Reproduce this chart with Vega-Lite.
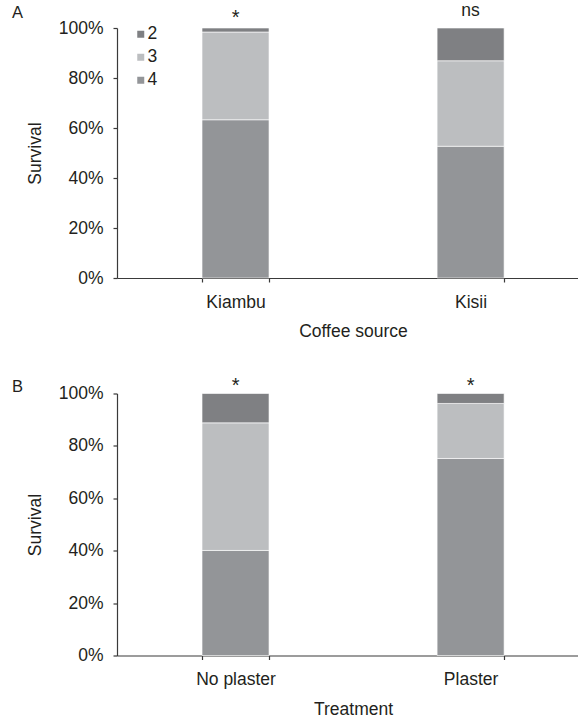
{
  "$schema": "https://vega.github.io/schema/vega-lite/v6.json",
  "background": "white",
  "padding": {"left": 12, "top": 2, "right": 0, "bottom": 0},
  "bounds": "flush",
  "spacing": 115.5,
  "config": {
    "font": "Liberation Sans",
    "view": {"stroke": null},
    "axis": {
      "labelFont": "Liberation Sans",
      "labelFontSize": 17.5,
      "labelColor": "#231f20",
      "titleFont": "Liberation Sans",
      "titleFontSize": 17.5,
      "titleFontWeight": "normal",
      "titleColor": "#231f20",
      "domainColor": "#3a3a3a",
      "tickColor": "#3a3a3a",
      "domainWidth": 1.2,
      "tickWidth": 1.2,
      "tickSize": 4,
      "grid": false
    }
  },
  "resolve": {"legend": {"color": "independent"}, "scale": {"x": "independent"}},
  "vconcat": [
    {
      "title": {
        "text": "A",
        "font": "Liberation Sans",
        "fontSize": 16.5,
        "fontWeight": "normal",
        "color": "#231f20",
        "anchor": "start",
        "frame": "group",
        "baseline": "alphabetic",
        "dx": -105,
        "dy": 37,
        "offset": 5
      },
      "width": 461,
      "height": 250,
      "layer": [
        {
          "data": {
            "values": [
              {"source": "Kiambu", "grade": "4", "share": 0.633},
              {"source": "Kiambu", "grade": "3", "share": 0.351},
              {"source": "Kiambu", "grade": "2", "share": 0.016},
              {"source": "Kisii", "grade": "4", "share": 0.527},
              {"source": "Kisii", "grade": "3", "share": 0.342},
              {"source": "Kisii", "grade": "2", "share": 0.131}
            ]
          },
          "mark": {"type": "bar", "stroke": "#ffffff", "strokeWidth": 0.6},
          "encoding": {
            "x": {
              "field": "source",
              "type": "nominal",
              "sort": ["Kiambu", "Kisii"],
              "title": "Coffee source",
              "scale": {"paddingInner": 0.715, "paddingOuter": 0.338, "align": 0.535},
              "axis": {
                "labelAngle": 0,
                "tickBand": "extent",
                "labelPadding": 11,
                "titlePadding": 12,
                "titleX": 236,
                "titleAlign": "center"
              }
            },
            "y": {
              "field": "share",
              "type": "quantitative",
              "stack": "zero",
              "title": "Survival",
              "scale": {"domain": [0, 1]},
              "axis": {
                "format": ".0%",
                "values": [0, 0.2, 0.4, 0.6, 0.8, 1],
                "labelPadding": 10,
                "titlePadding": 14
              }
            },
            "color": {
              "field": "grade",
              "type": "nominal",
              "scale": {"domain": ["2", "3", "4"], "range": ["#7f8083", "#bcbec0", "#939598"]},
              "legend": {
                "orient": "none",
                "legendX": 15,
                "legendY": -2.5,
                "title": null,
                "symbolType": "square",
                "symbolSize": 49,
                "symbolStrokeWidth": 0,
                "labelFont": "Liberation Sans",
                "labelFontSize": 17.5,
                "labelColor": "#231f20",
                "labelOffset": -2,
                "rowPadding": 4,
                "padding": 0
              }
            },
            "order": {"field": "grade", "sort": "descending"}
          }
        },
        {
          "data": {
            "values": [
              {"source": "Kiambu", "sig": "*", "top": 1},
              {"source": "Kisii", "sig": "ns", "top": 1}
            ]
          },
          "transform": [{"filter": "datum.sig === '*'"}],
          "mark": {"type": "text", "font": "Liberation Sans", "fontSize": 20, "color": "#231f20", "baseline": "alphabetic", "dy": -4},
          "encoding": {
            "x": {"field": "source", "type": "nominal", "title": "Coffee source"},
            "y": {"field": "top", "type": "quantitative", "title": "Survival"},
            "text": {"field": "sig"}
          }
        },
        {
          "data": {
            "values": [
              {"source": "Kiambu", "sig": "*", "top": 1},
              {"source": "Kisii", "sig": "ns", "top": 1}
            ]
          },
          "transform": [{"filter": "datum.sig !== '*'"}],
          "mark": {"type": "text", "font": "Liberation Sans", "fontSize": 17.5, "color": "#231f20", "baseline": "alphabetic", "dy": -12},
          "encoding": {
            "x": {"field": "source", "type": "nominal", "title": "Coffee source"},
            "y": {"field": "top", "type": "quantitative", "title": "Survival"},
            "text": {"field": "sig"}
          }
        }
      ]
    },
    {
      "title": {
        "text": "B",
        "font": "Liberation Sans",
        "fontSize": 16.5,
        "fontWeight": "normal",
        "color": "#231f20",
        "anchor": "start",
        "frame": "group",
        "baseline": "alphabetic",
        "dx": -105,
        "dy": 38,
        "offset": 5
      },
      "width": 461,
      "height": 262,
      "layer": [
        {
          "data": {
            "values": [
              {"treatment": "No plaster", "grade": "4", "share": 0.401},
              {"treatment": "No plaster", "grade": "3", "share": 0.487},
              {"treatment": "No plaster", "grade": "2", "share": 0.112},
              {"treatment": "Plaster", "grade": "4", "share": 0.752},
              {"treatment": "Plaster", "grade": "3", "share": 0.210},
              {"treatment": "Plaster", "grade": "2", "share": 0.038}
            ]
          },
          "mark": {"type": "bar", "stroke": "#ffffff", "strokeWidth": 0.6},
          "encoding": {
            "x": {
              "field": "treatment",
              "type": "nominal",
              "sort": ["No plaster", "Plaster"],
              "title": "Treatment",
              "scale": {"paddingInner": 0.715, "paddingOuter": 0.338, "align": 0.535},
              "axis": {
                "labelAngle": 0,
                "tickBand": "extent",
                "labelPadding": 11,
                "titlePadding": 12,
                "titleX": 236,
                "titleAlign": "center"
              }
            },
            "y": {
              "field": "share",
              "type": "quantitative",
              "stack": "zero",
              "title": "Survival",
              "scale": {"domain": [0, 1]},
              "axis": {
                "format": ".0%",
                "values": [0, 0.2, 0.4, 0.6, 0.8, 1],
                "labelPadding": 10,
                "titlePadding": 14
              }
            },
            "color": {
              "field": "grade",
              "type": "nominal",
              "scale": {"domain": ["2", "3", "4"], "range": ["#7f8083", "#bcbec0", "#939598"]},
              "legend": null
            },
            "order": {"field": "grade", "sort": "descending"}
          }
        },
        {
          "data": {
            "values": [
              {"treatment": "No plaster", "sig": "*", "top": 1},
              {"treatment": "Plaster", "sig": "*", "top": 1}
            ]
          },
          "mark": {"type": "text", "font": "Liberation Sans", "fontSize": 20, "color": "#231f20", "baseline": "alphabetic", "dy": -2},
          "encoding": {
            "x": {"field": "treatment", "type": "nominal", "title": "Treatment"},
            "y": {"field": "top", "type": "quantitative", "title": "Survival"},
            "text": {"field": "sig"}
          }
        }
      ]
    }
  ]
}
